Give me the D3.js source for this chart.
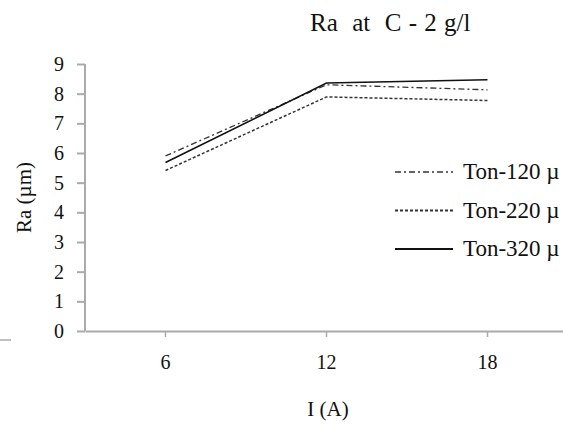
<!DOCTYPE html>
<html>
<head>
<meta charset="utf-8">
<script src="https://cdn.jsdelivr.net/npm/d3@7"></script>
<style>
  body { margin: 0; background: #fff; }
  text { font-family: "Liberation Serif", "Times New Roman", serif; fill: #111; }
</style>
</head>
<body>
<script>
// data
let categories = ["6", "12", "18"];
let ton120 = [5.9, 8.3, 8.13];
let ton220 = [5.41, 7.89, 7.77];
let ton320 = [5.68, 8.36, 8.47];
let seriesNames = ["Ton-120 \u00b5", "Ton-220 \u00b5", "Ton-320 \u00b5"];
let yTicks = [0, 1, 2, 3, 4, 5, 6, 7, 8, 9];

let size = {width: 563, height: 426};
let margin = {top: 64, right: -5, bottom: 95, left: 85};

let svg = d3.select("body").append("svg")
    .attr("width", size.width).attr("height", size.height);

let x = d3.scaleBand().domain(categories)
    .range([margin.left, size.width - margin.right]);
let y = d3.scaleLinear().domain([0, 9])
    .range([size.height - margin.bottom, margin.top]);

// y axis
let yAxis = svg.append("g")
    .attr("transform", `translate(${margin.left},0)`)
    .call(d3.axisLeft(y).tickValues(yTicks).tickSize(8).tickPadding(13).tickFormat(d3.format("d")));
yAxis.selectAll("path, line").attr("stroke", "#aaa").attr("stroke-width", 2);
yAxis.select(".domain").attr("d", `M0,${y(9)}V${y(0)}`);
yAxis.selectAll("text").style("font-size", "20px").attr("fill", "#111");

// x axis
let xAxis = svg.append("g")
    .attr("transform", `translate(0,${y(0)})`)
    .call(d3.axisBottom(x).tickSizeInner(-6).tickSizeOuter(0).tickPadding(26));
xAxis.selectAll("path, line").attr("stroke", "#aaa").attr("stroke-width", 2);
xAxis.selectAll(".tick line").attr("y1", 0).attr("y2", 6).attr("stroke-width", 1.5);
xAxis.selectAll("text").style("font-size", "20px").attr("fill", "#111").attr("dy", "0.6em");

// stray line at bottom left
svg.append("line").attr("x1", 0).attr("x2", 11).attr("y1", 340).attr("y2", 340)
    .attr("stroke", "#aaa").attr("stroke-width", 1.5);

let line = d3.line()
    .x((d, i) => x(categories[i]) + x.bandwidth() / 2)
    .y(d => y(d));

let styles = [
    {data: ton120, dash: "6,3,2,3", width: 1.3, color: "#333"},
    {data: ton220, dash: "3,2", width: 1.5, color: "#333"},
    {data: ton320, dash: null, width: 1.6, color: "#111"}
];

styles.forEach(s => {
    svg.append("path").datum(s.data)
        .attr("d", line)
        .attr("fill", "none")
        .attr("stroke", s.color)
        .attr("stroke-width", s.width)
        .attr("stroke-dasharray", s.dash);
});

// legend
let legend = svg.append("g");
styles.forEach((s, i) => {
    let ly = 172 + i * 38.5;
    legend.append("line")
        .attr("x1", 395).attr("x2", 453).attr("y1", ly).attr("y2", ly)
        .attr("stroke", s.color).attr("stroke-width", s.width + 0.4)
        .attr("stroke-dasharray", s.dash);
    legend.append("text")
        .attr("x", 463).attr("y", ly + 7)
        .style("font-size", "23px")
        .text(seriesNames[i]);
});

// title
svg.append("text")
    .attr("x", 310).attr("y", 31)
    .style("font-size", "25px")
    .style("word-spacing", "1px")
    .attr("xml:space", "preserve")
    .text("Ra  at  C - 2 g/l");

// axis titles
svg.append("text")
    .attr("x", 328).attr("y", 416)
    .attr("text-anchor", "middle")
    .style("font-size", "21px")
    .text("I (A)");

svg.append("text")
    .attr("transform", `translate(31,${(y(0) + y(9)) / 2}) rotate(-90)`)
    .attr("text-anchor", "middle")
    .style("font-size", "21px")
    .text("Ra (\u00b5m)");
</script>
</body>
</html>
